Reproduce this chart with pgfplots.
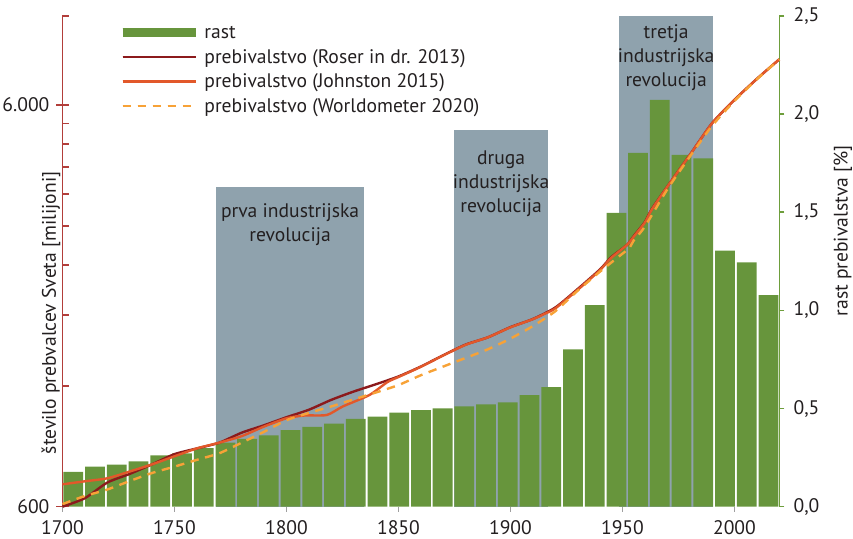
\documentclass[border=0pt]{standalone}
\usepackage{fontspec}
\setmainfont{PT Sans}
\usepackage{pgfplots}
\usepackage{pgfplotstable}
\pgfplotsset{compat=1.18}
\definecolor{bargreen}{RGB}{103,149,60}
\definecolor{rectgray}{RGB}{143,162,173}
\definecolor{axred}{RGB}{178,62,58}
\definecolor{axgreen}{RGB}{110,158,60}
\definecolor{roser}{RGB}{140,26,28}
\definecolor{johnston}{RGB}{226,88,42}
\definecolor{worldo}{RGB}{247,162,55}
\definecolor{txt}{RGB}{35,31,32}

\pgfplotstableread{
idx rate
0 0.178
1 0.204
2 0.214
3 0.231
4 0.261
5 0.272
6 0.299
7 0.326
8 0.346
9 0.363
10 0.390
11 0.407
12 0.423
13 0.447
14 0.459
15 0.479
16 0.492
17 0.501
18 0.511
19 0.521
20 0.532
21 0.569
22 0.609
23 0.801
24 1.027
25 1.497
26 1.802
27 2.072
28 1.792
29 1.774
30 1.304
31 1.245
32 1.078
}\ratetable

\pgfplotstableread{
year pop
1700 600
1710 630
1720 689
1730 724
1740 765
1750 811
1760 838
1770 866
1780 917
1790 957
1800 1002
1810 1046
1820 1107
1830 1161
1840 1211
1850 1266
1860 1340
1870 1430
1880 1520
1890 1585
1900 1680
1910 1760
1920 1880
1930 2090
1940 2340
1945 2510
1952 2690
1955 2830
1960 3070
1963 3300
1970 3760
1980 4505
1990 5410
2000 6184
2010 6975
2020 7800
}\rosertable

\pgfplotstableread{
year pop
1700 682
1710 694
1720 706
1730 734
1740 765
1750 801
1760 838
1770 866
1780 899
1790 950
1800 996
1808 1012
1818 1015
1825 1065
1837 1138
1845 1225
1850 1262
1860 1338
1870 1428
1880 1518
1890 1585
1900 1678
1910 1758
1915 1810
1920 1870
1930 2080
1940 2330
1945 2500
1952 2690
1955 2820
1960 3060
1963 3290
1970 3755
1980 4500
1990 5405
2000 6180
2010 6970
2020 7800
}\johnstontable

\pgfplotstableread{
year pop
1700 609
1710 638
1720 662
1730 695
1740 728
1750 755
1760 785
1770 815
1780 866
1790 922
1800 985
1810 1027
1820 1066
1830 1110
1840 1155
1850 1205
1860 1275
1870 1340
1880 1408
1890 1480
1900 1573
1910 1690
1920 1840
1930 2070
1940 2310
1950 2560
1953 2640
1955 2760
1960 2990
1970 3700
1980 4458
1990 5327
2000 6143
2010 6957
2020 7795
}\worldotable

\newcommand{\lstrut}{\rule[-2.5pt]{0pt}{10.5pt}}

\begin{document}
\fontsize{9.8}{12}\selectfont
\begin{tikzpicture}[font=\fontsize{9.8}{12}\selectfont, text=txt]
\pgfplotsset{base/.style={scale only axis, width=358.4pt, height=245.35pt, at={(0,0)}, anchor=south west}}

% background: industrial revolutions + x ticks
\begin{axis}[base, xmin=1700, xmax=2020, ymin=0, ymax=2.5, clip=false,
  axis x line*=bottom, axis y line=none,
  x axis line style={draw=none,-},
  xtick={1700,1750,1800,1850,1900,1950,2000},
  xticklabels={1700,1750,1800,1850,1900,1950,2000},
  tick align=outside, major tick length=2.5pt,
  xtick style={draw=gray!75, line width=0.6pt},
  xticklabel style={yshift=-1.2pt, text=txt}]
\addplot[fill=rectgray, draw=none] coordinates {(1768.4,1.63) (1834.7,1.63)} \closedcycle;
\addplot[fill=rectgray, draw=none] coordinates {(1874.8,1.92) (1916.8,1.92)} \closedcycle;
\addplot[fill=rectgray, draw=none] coordinates {(1948.5,2.5) (1990.5,2.5)} \closedcycle;
\node[align=center] at (axis cs:1801.6,1.435) {prva industrijska\\revolucija};
\node[align=center] at (axis cs:1895.8,1.643) {druga\\industrijska\\revolucija};
\node[align=center] at (axis cs:1969.5,2.29) {tretja\\industrijska\\revolucija};
\end{axis}

% bars: growth rate
\begin{axis}[base, xmin=-0.5, xmax=32.5, ymin=0, ymax=2.5,
  axis x line=none, axis y line*=right,
  y axis line style={draw=axgreen, line width=0.8pt, -},
  ytick={0,0.5,1,1.5,2,2.5},
  yticklabels={{0,0},{0,5},{1,0},{1,5},{2,0},{2,5}},
  tick align=outside, major tick length=2.5pt,
  ytick style={draw=axgreen, line width=0.8pt},
  yticklabel style={xshift=1.2pt, text=txt},
  ylabel={rast prebivalstva [\%]},
  every axis y label/.style={at={(rel axis cs:1,0.562)}, xshift=31.85pt, rotate=90, anchor=center}]
\addplot[ybar, bar width=0.91, fill=bargreen, draw=none] table[x=idx, y=rate] {\ratetable};
\end{axis}

% population lines (log axis)
\begin{axis}[base, xmin=1700, xmax=2020, ymode=log, ymin=600, ymax=10000, clip=false,
  axis x line=none, axis y line*=left,
  y axis line style={draw=axred, line width=0.8pt, -},
  ytick={1200,1800,2400,3000,3600,4200,4800,5400,10000},
  yticklabels={},
  minor ytick={},
  tick align=inside, major tick length=3.3pt,
  ytick style={draw=axred, line width=0.8pt},
  extra y ticks={600,6000},
  extra y tick labels={600,6.000},
  extra y tick style={tick align=center, major tick length=6.2pt},
  yticklabel style={text=txt},
  ylabel={število prebvalcev Sveta [milijoni]},
  every axis y label/.style={at={(rel axis cs:0,0.395)}, xshift=-5.75pt, rotate=90, anchor=center},
  legend style={draw=none, fill=none, at={(rel axis cs:0.0775,0.986)}, anchor=north west,
    inner sep=0pt, outer sep=0pt, row sep=2.8pt, column sep=0pt,
    nodes={inner xsep=2pt, inner ysep=0pt}},
  legend cell align=left,
  legend image code/.code={\draw[#1] (0pt,0pt) -- (27pt,0pt); \path (0pt,0pt) -- (36.5pt,0pt);}]
\addlegendimage{line width=4.7pt, draw=bargreen}
\addlegendentry{\lstrut rast}
\addplot[roser, line width=1.2pt, smooth, tension=0.4] table[x=year, y=pop] {\rosertable};
\addlegendentry{\lstrut prebivalstvo (Roser in dr. 2013)}
\addplot[johnston, line width=1.2pt, smooth, tension=0.4] table[x=year, y=pop] {\johnstontable};
\addlegendentry{\lstrut prebivalstvo (Johnston 2015)}
\addplot[worldo, line width=1.2pt, dash pattern=on 4.2pt off 3.3pt, smooth, tension=0.4] table[x=year, y=pop] {\worldotable};
\addlegendentry{\lstrut prebivalstvo (Worldometer 2020)}
\end{axis}
\pgfresetboundingbox
\useasboundingbox (-31.25pt,-16.15pt) rectangle (395.25pt,253.35pt);
\end{tikzpicture}
\end{document}
